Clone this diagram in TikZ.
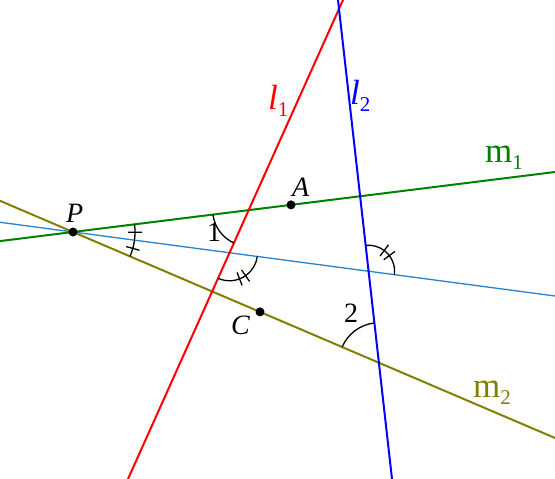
\documentclass[tikz,border=0pt]{standalone}
\usepackage{fontspec}
\setmainfont{Liberation Serif}
\usetikzlibrary{calc,intersections}
\definecolor{lred}{RGB}{255,0,0}
\definecolor{lblue}{RGB}{0,0,255}
\definecolor{mgreen}{RGB}{0,128,0}
\definecolor{molive}{RGB}{128,128,0}
\definecolor{bis}{RGB}{40,130,205}
\newcommand\linelab[2]{{\fontsize{35}{35}\selectfont #1}\raisebox{-7pt}{\fontsize{21}{21}\selectfont #2}}
\tikzset{
  mainline/.style={line width=2pt},
  bisline/.style={line width=1.3pt, bis},
  angarc/.style={line width=1.3pt, black},
  tickmark/.style={line width=1.3pt, black},
  dot/.style={circle, fill=black, inner sep=0pt, minimum size=9pt},
  ptlab/.style={inner sep=0pt, anchor=base west, font=\fontsize{28}{28}\selectfont\itshape},
  numlab/.style={inner sep=0pt, anchor=base west, font=\fontsize{28}{28}\selectfont},
  lnlab/.style={inner sep=0pt, anchor=base west}
}
\begin{document}
\begin{tikzpicture}[x=1pt,y=1pt]
\useasboundingbox (0,0) rectangle (555,479);
\clip (0,0) rectangle (555,479);
% end points
\coordinate (m1a) at (0,237.9);
\coordinate (m1b) at (555,307);
\coordinate (m2a) at (0,278.2);
\coordinate (m2b) at (555,41);
\coordinate (ba) at (0,256.7);
\coordinate (bb) at (555,183);
\coordinate (l1a) at (128,0);
\coordinate (l1b) at (343,479);
\coordinate (l2a) at (338,479);
\coordinate (l2b) at (392,0);
% lines
\draw[bisline, name path=bl] (ba) -- (bb);
\draw[mainline, mgreen, name path=m1] (m1a) -- (m1b);
\draw[mainline, molive, name path=m2] (m2a) -- (m2b);
\draw[mainline, lred, name path=l1] (l1a) -- (l1b);
\draw[mainline, lblue, name path=l2] (l2a) -- (l2b);
\path[name intersections={of=l1 and m1, by=X1}];
\path[name intersections={of=l1 and bl, by=X2}];
\path[name intersections={of=l2 and bl, by=X3}];
\path[name intersections={of=l2 and m2, by=X4}];
\path[name intersections={of=m1 and m2, by=P}];
% angle at P
\draw[angarc] ($(P)+(-23.14:62pt)$) arc[start angle=-23.14, end angle=7.10, radius=62pt];
\draw[tickmark] ($(P)+(-0.23:55pt)$) -- ($(P)+(-0.23:69pt)$);
\draw[tickmark] ($(P)+(-15.35:55pt)$) -- ($(P)+(-15.35:69pt)$);
% angle 1
\draw[angarc] ($(X1)+(187.10:36pt)$) arc[start angle=187.10, end angle=245.83, radius=36pt];
% double ticked angle at X2
\draw[angarc] ($(X2)+(245.83:28pt)$) arc[start angle=245.83, end angle=352.44, radius=28pt];
\draw[tickmark] ($(X2)+(291:21pt)$) -- ($(X2)+(291:35pt)$);
\draw[tickmark] ($(X2)+(305:21pt)$) -- ($(X2)+(305:35pt)$);
% double ticked angle at X3
\draw[angarc] ($(X3)+(-7.56:26pt)$) arc[start angle=-7.56, end angle=96.43, radius=26pt];
\draw[tickmark] ($(X3)+(37:19pt)$) -- ($(X3)+(37:33pt)$);
\draw[tickmark] ($(X3)+(53:19pt)$) -- ($(X3)+(53:33pt)$);
% angle 2
\draw[angarc] ($(X4)+(96.43:40pt)$) arc[start angle=96.43, end angle=156.86, radius=40pt];
% points
\node[dot] (Pd) at (P) {};
\node[dot] (A) at (291,274.1) {};
\node[dot] (C) at (260,167.1) {};
% labels
\node[ptlab] (Plab) at (66,256) {P};
\node[ptlab] (Alab) at (292,282) {A};
\node[ptlab] (Clab) at (231,144) {C};
\node[numlab] (one) at (207,237) {1};
\node[numlab] (two) at (344,156) {2};
\node[lnlab, lred] (l1lab) at (268,369) {\linelab{\itshape l}{1}};
\node[lnlab, lblue] (l2lab) at (350,374) {\linelab{\itshape l}{2}};
\node[lnlab, mgreen] (m1lab) at (485,316) {\linelab{m}{1}};
\node[lnlab, molive] (m2lab) at (473,81) {\linelab{m}{2}};
\end{tikzpicture}
\end{document}
